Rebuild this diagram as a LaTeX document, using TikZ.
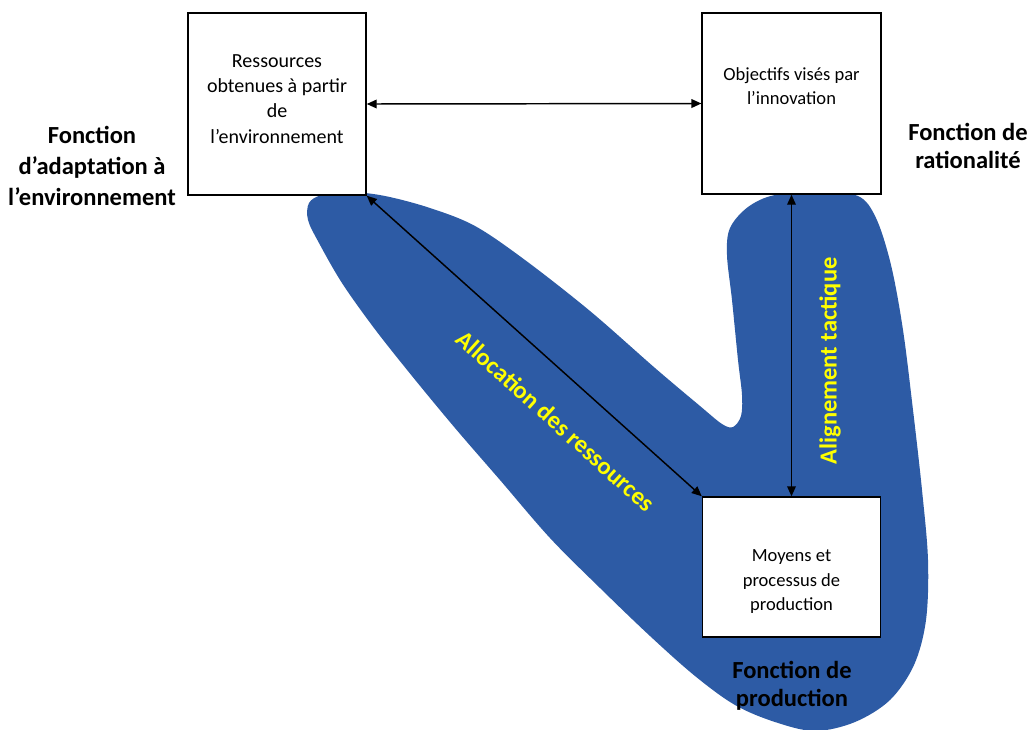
\documentclass[tikz,border=0pt]{standalone}
\usepackage{fontspec}
\setmainfont{Carlito}
\usetikzlibrary{arrows.meta}
\definecolor{blobblue}{RGB}{45,91,165}
\definecolor{labelyellow}{RGB}{255,255,0}
\tikzset{
  box/.style={draw=black, line width=1.1pt, fill=white, inner sep=0pt},
  boxtextA/.style={align=center, inner sep=0pt, font=\fontsize{15}{18.9}\selectfont},
  boxtextB/.style={align=center, inner sep=0pt, font=\fontsize{13.9}{18.4}\selectfont},
  funclabel/.style={align=center, inner sep=0pt, font=\bfseries\fontsize{18.4}{22}\selectfont},
  flowlabel/.style={inner sep=0pt, text=labelyellow, font=\bfseries\fontsize{18.4}{22}\selectfont},
  biarrow/.style={line width=1.1pt,
    {Triangle[length=7.5pt,width=6.5pt]}-{Triangle[length=7.5pt,width=6.5pt]}}
}
\begin{document}
\begin{tikzpicture}[x=0.75pt, y=-0.75pt]
\fill[white] (0,0) rectangle (1028,729);
\useasboundingbox (0,0) rectangle (1028,729);

% blue region of the production function
\fill[blobblue] plot[smooth cycle, tension=0.55] coordinates {
  (309,203) (322,195) (350,192) (385,196) (430,208) (475,226)
  (525,260) (590,311) (655,368) (700,406) (722,424) (733,427)
  (741,416) (742,395) (738,360) (732,300) (727,255) (730,228)
  (748,207) (775,195) (820,193) (858,196) (876,218) (891,265)
  (903,330) (913,410) (922,490) (928,560) (926,620) (914,665)
  (890,700) (855,722) (815,731) (775,722) (735,705) (695,676)
  (650,636) (600,588) (550,538) (500,480) (455,428) (412,376)
  (374,328) (342,283) (319,243) (308,220)
};

% boxes
\node[box, minimum width=133.5pt, minimum height=136.5pt] (b1) at (277,104) {};
\node[box, minimum width=134pt, minimum height=135.75pt] (b2) at (791.5,103.5) {};
\node[box, minimum width=133.5pt, minimum height=105pt] (b3) at (791.5,567) {};

% box contents
\node[boxtextA] (t1) at (277,99) {Ressources\\obtenues à partir\\de\\l’environnement};
\node[boxtextB] (t2) at (791.5,86) {Objectifs visés par\\l’innovation};
\node[boxtextB] (t3) at (791.5,582) {Moyens et\\processus de\\production};

% connectors
\draw[biarrow] (b1.east) -- (b2.west);
\draw[biarrow] (b1.south east) -- (b3.north west);
\draw[biarrow] (b2.south) -- (b3.north);

% connector labels
\node[flowlabel, rotate=-42] (alloc) at (556,421) {Allocation des ressources};
\node[flowlabel, rotate=90] (align) at (830,361) {Alignement tactique};

% function labels
\node[funclabel, font=\bfseries\fontsize{18.4}{23.2}\selectfont] (fadapt) at (92,166) {Fonction\\d’adaptation à\\l’environnement};
\node[funclabel, font=\bfseries\fontsize{18.4}{20.5}\selectfont] (frat) at (968,146) {Fonction de\\rationalité};
\node[funclabel, font=\bfseries\fontsize{18.4}{21}\selectfont] (fprod) at (792,686) {Fonction de\\production};
\end{tikzpicture}
\end{document}
